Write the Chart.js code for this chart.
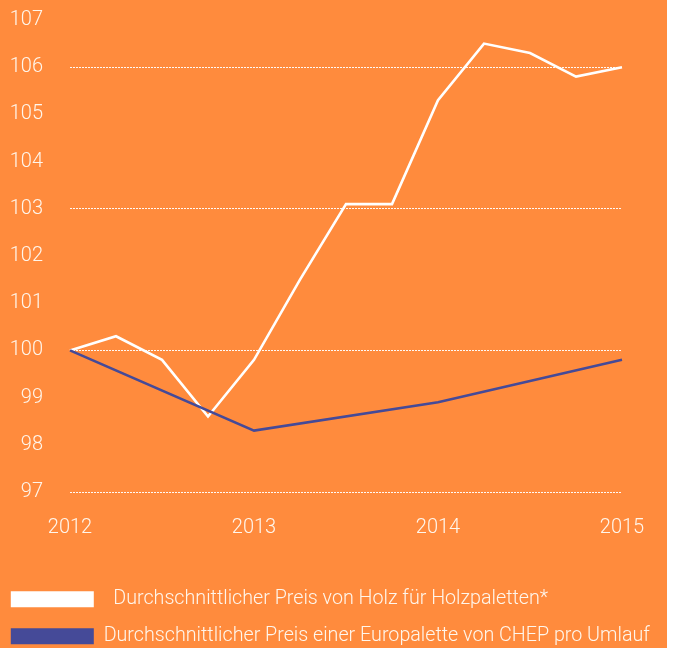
<!DOCTYPE html>
<html>
<head>
<meta charset="utf-8">
<script src="https://cdn.jsdelivr.net/npm/chart.js@4/dist/chart.umd.min.js"></script>
<style>
  html, body { margin: 0; padding: 0; background: #ffffff; }
  #wrap { position: absolute; left: 0; top: 0; width: 667px; height: 648px; background: #ff8b3d; }
  canvas { display: block; }
</style>
</head>
<body>
<div id="wrap"><canvas id="c" width="667" height="648"></canvas></div>
<script>
// Quarterly categories 2012 Q1 .. 2015 Q1
const categories = ['2012-Q1','2012-Q2','2012-Q3','2012-Q4','2013-Q1','2013-Q2','2013-Q3','2013-Q4','2014-Q1','2014-Q2','2014-Q3','2014-Q4','2015-Q1'];
const yearTickLabels = ['2012','2013','2014','2015'];
const holzValues = [100, 100.3, 99.8, 98.6, 99.8, 101.5, 103.1, 103.1, 105.3, 106.5, 106.3, 105.8, 106.0];
const chepValues = [100, null, null, null, 98.3, null, null, null, 98.9, null, null, null, 99.8];
const seriesNames = ['  Durchschnittlicher Preis von Holz für Holzpaletten*', 'Durchschnittlicher Preis einer Europalette von CHEP pro Umlauf'];
const yTicks = [97, 98, 99, 100, 101, 102, 103, 104, 105, 106, 107];
const gridValues = [97, 100, 103, 106];

const FONT = "Roboto, 'Liberation Sans', sans-serif";
const TEXT = '#fff6ec';

new Chart(document.getElementById('c'), {
  type: 'line',
  data: {
    labels: categories,
    datasets: [
      { label: seriesNames[0], data: holzValues, borderColor: '#ffffff', backgroundColor: '#ffffff',
        borderWidth: 2.6, pointRadius: 0, tension: 0, order: 1 },
      { label: seriesNames[1], data: chepValues, borderColor: '#454a98', backgroundColor: '#454a98',
        borderWidth: 2.6, pointRadius: 0, tension: 0, spanGaps: true, order: 0 }
    ]
  },
  options: {
    responsive: false,
    animation: false,
    layout: { padding: { left: -6.5, right: 0, top: 20, bottom: -8 } },
    plugins: {
      tooltip: { enabled: false },
      legend: {
        position: 'bottom',
        align: 'start',
        labels: {
          sort: (a, b) => a.datasetIndex - b.datasetIndex,
          boxWidth: 83, boxHeight: 16, padding: 17.3,
          color: TEXT,
          font: { family: FONT, size: 19.7, weight: '300' },
          generateLabels: (chart) => chart.data.datasets.map((ds, i) => ({
            text: ds.label, fillStyle: ds.borderColor, strokeStyle: ds.borderColor,
            lineWidth: 0, hidden: false, datasetIndex: i, fontColor: TEXT
          }))
        }
      }
    },
    scales: {
      x: {
        type: 'category',
        offset: false,
        grid: { display: false, drawTicks: false },
        border: { display: false },
        afterFit: (s) => { s.height = 80; s.paddingLeft = 0; s.paddingRight = 0; },
        ticks: {
          autoSkip: false, maxRotation: 0, padding: 24,
          color: TEXT, font: { family: FONT, size: 20, weight: '300' },
          callback: function (v, i) {
            const lab = categories[i];
            const yr = lab.slice(0, 4);
            return lab.endsWith('Q1') && yearTickLabels.includes(yr) ? yr : '';
          }
        }
      },
      y: {
        min: yTicks[0], max: yTicks[yTicks.length - 1],
        afterFit: (s) => { s.width = 76.5; s.paddingTop = 0; s.paddingBottom = 0; },
        afterBuildTicks: (s) => { s.ticks = yTicks.map(v => ({ value: v })); },
        grid: {
          drawTicks: false,
          color: (ctx) => gridValues.includes(ctx.tick && ctx.tick.value) ? 'rgba(255,255,255,0.95)' : 'rgba(0,0,0,0)',
          lineWidth: 1
        },
        border: { display: false, dash: [2, 1] },
        ticks: {
          padding: 27,
          color: TEXT, font: { family: FONT, size: 20, weight: '300' },
          callback: (v) => String(v)
        }
      },
      yRight: {
        position: 'right',
        display: true,
        min: yTicks[0], max: yTicks[yTicks.length - 1],
        afterFit: (s) => { s.width = 45; s.paddingTop = 0; s.paddingBottom = 0; },
        grid: { display: false, drawTicks: false },
        border: { display: false },
        ticks: { display: false }
      }
    }
  }
});
</script>
</body>
</html>
